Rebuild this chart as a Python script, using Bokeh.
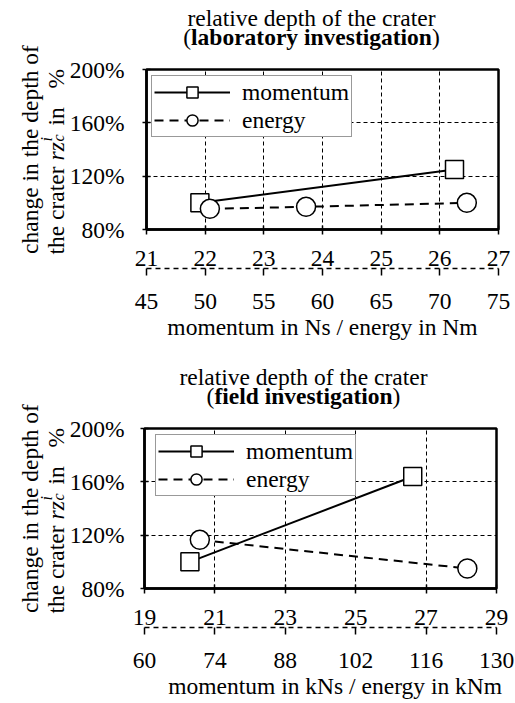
import math
from bokeh.plotting import figure
from bokeh.models import Range1d, LinearAxis, FixedTicker, PrintfTickFormatter
from bokeh.layouts import column, row
from bokeh.core.properties import value
from bokeh.embed import file_html
from bokeh.resources import INLINE

FONT = "Liberation Serif"
FS = "23.5px"

# ---------------- data ----------------
title_line1 = "relative depth of the crater"
y_ticks = [80, 120, 160, 200]
series_names = ["momentum", "energy"]
ylabel_line1 = "change in the depth of"
ylabel_line2 = ["the crater", "rz", "c", "i", "in", "%"]

lab_bold = "laboratory investigation"
lab_x_ticks = [21, 22, 23, 24, 25, 26, 27]
lab_en_ticks = [45, 50, 55, 60, 65, 70, 75]
lab_mom_x = [21.91, 26.25]
lab_mom_y = [100, 125]
lab_en_x = [50.4, 58.6, 72.3]
lab_en_y = [95.5, 97, 100]
lab_xlabel = "momentum in Ns / energy in Nm"

field_bold = "field investigation"
field_x_ticks = [19, 21, 23, 25, 27, 29]
field_en_ticks = [60, 74, 88, 102, 116, 130]
field_mom_x = [20.29, 26.62]
field_mom_y = [100, 164]
field_en_x = [71.0, 124.2]
field_en_y = [116.5, 95]
field_xlabel = "momentum in kNs / energy in kNm"

TB = dict(a=500, b=556, c=444, d=556, e=444, f=333, g=500, h=556, i=278, j=333, k=556,
          l=278, m=833, n=556, o=500, p=556, q=556, r=444, s=389, t=333, u=556, v=500,
          w=722, x=500, y=500, z=444)
TB[" "] = 250

W = 515
YL_W = 66
TITLE_H = [50, 65]
MAIN_H = [294, 294]


def aux(w, h):
    f = figure(width=w, height=h, x_range=Range1d(0, w), y_range=Range1d(0, h),
               output_backend="svg", toolbar_location=None,
               x_axis_location=None, y_axis_location=None,
               min_border_left=0, min_border_right=0, min_border_top=0, min_border_bottom=0)
    for g in f.grid:
        g.visible = False
    f.outline_line_color = None
    f.background_fill_color = "white"
    f.border_fill_color = "white"
    return f


def txt(f, x, y, t, align="center", baseline="middle", style="normal", size=FS, angle=0.0):
    f.text(x=[x], y=[y], text=[t], text_font=value(FONT), text_font_size=value(size),
           text_font_style=value(style), text_align=value(align),
           text_baseline=value(baseline), text_color="black", angle=angle)


def build(idx, page_top, frame_left, frame_right, title_cx, x_ticks, en_ticks,
          mom_x, mom_y, en_x, en_y, bold, xlabel, xlabel_pad, y_standoff, legend_x):
    th = TITLE_H[idx]
    mh = MAIN_H[idx]
    fh = 160
    fw = frame_right - frame_left
    frame_top_page = page_top + th + 19
    mw = W - YL_W

    # title strip (right of the y-label strip)
    tf = aux(mw, th)
    cx = title_cx - YL_W
    txt(tf, cx, 33, title_line1)
    bw = sum(TB.get(ch, 500) for ch in bold) * 23.5 / 1000.0
    txt(tf, cx, 14, bold, style="bold")
    txt(tf, cx - bw / 2, 14, "(", align="right")
    txt(tf, cx + bw / 2, 14, ")", align="left")

    # y-label strip, full height of title + chart
    sh = th + mh
    yf = aux(YL_W, sh)

    def py(page_y):
        return page_top + sh - page_y

    ftop = frame_top_page
    a = math.pi / 2
    txt(yf, 29, py(ftop + fh / 2), ylabel_line1, baseline="alphabetic", angle=a)
    txt(yf, 55, py(ftop + 185), ylabel_line2[0], align="left", baseline="alphabetic", angle=a)
    txt(yf, 55, py(ftop + 91), ylabel_line2[1], align="left", baseline="alphabetic",
        style="italic", angle=a)
    txt(yf, 58, py(ftop + 72), ylabel_line2[2], align="left", baseline="alphabetic",
        style="italic", size="16px", angle=a)
    txt(yf, 46, py(ftop + 72), ylabel_line2[3], align="left", baseline="alphabetic",
        style="italic", size="16px", angle=a)
    txt(yf, 55, py(ftop + 56), ylabel_line2[4], align="left", baseline="alphabetic", angle=a)
    txt(yf, 55, py(ftop + 19), ylabel_line2[5], align="left", baseline="alphabetic", angle=a)

    # main chart
    mbl = frame_left - YL_W
    mbr = mw - mbl - fw
    mbt = 19
    mbb = mh - mbt - fh
    p = figure(width=mw, height=mh,
               x_range=Range1d(x_ticks[0], x_ticks[-1]),
               y_range=Range1d(y_ticks[0], y_ticks[-1]),
               output_backend="svg", toolbar_location=None,
               min_border_left=mbl, min_border_right=mbr,
               min_border_top=mbt, min_border_bottom=mbb)
    p.extra_x_ranges = {"en": Range1d(en_ticks[0], en_ticks[-1])}
    p.outline_line_color = "black"
    p.outline_line_width = 2.5
    p.background_fill_color = "white"
    p.border_fill_color = "white"

    xa = p.below[0]
    xa.ticker = FixedTicker(ticks=x_ticks)
    xa.axis_line_color = "black"
    xa.axis_line_width = 2.5
    xa.major_tick_line_color = "black"
    xa.major_tick_line_width = 1.5
    xa.major_tick_in = 4
    xa.major_tick_out = 5
    xa.minor_tick_line_color = None
    xa.major_label_text_font = FONT
    xa.major_label_text_font_size = FS
    xa.major_label_text_color = "black"
    xa.major_label_standoff = 16

    ya = p.left[0]
    ya.ticker = FixedTicker(ticks=y_ticks)
    ya.formatter = PrintfTickFormatter(format="%d%%")
    ya.axis_line_color = "black"
    ya.axis_line_width = 2.5
    ya.major_tick_line_color = "black"
    ya.major_tick_line_width = 1.5
    ya.major_tick_in = 4
    ya.major_tick_out = 4
    ya.minor_tick_line_color = None
    ya.major_label_text_font = FONT
    ya.major_label_text_font_size = FS
    ya.major_label_text_color = "black"
    ya.major_label_standoff = y_standoff

    ax2 = LinearAxis(x_range_name="en", ticker=FixedTicker(ticks=en_ticks))
    ax2.axis_line_color = "black"
    ax2.axis_line_width = 1.5
    ax2.axis_line_dash = "5 4"
    ax2.major_tick_line_color = "black"
    ax2.major_tick_line_width = 1.5
    ax2.major_tick_in = 0
    ax2.major_tick_out = 7
    ax2.minor_tick_line_color = None
    ax2.major_label_text_font = FONT
    ax2.major_label_text_font_size = FS
    ax2.major_label_text_color = "black"
    ax2.major_label_standoff = 18
    ax2.axis_label = "\u00a0" * xlabel_pad + xlabel
    ax2.axis_label_text_font = FONT
    ax2.axis_label_text_font_size = FS
    ax2.axis_label_text_font_style = "normal"
    ax2.axis_label_text_color = "black"
    ax2.axis_label_standoff = 2
    p.add_layout(ax2, "below")

    for g in (p.xgrid[0], p.ygrid[0]):
        g.grid_line_color = "black"
        g.grid_line_dash = "4 3"
        g.grid_line_width = 1
    p.xgrid[0].ticker = FixedTicker(ticks=x_ticks)
    p.ygrid[0].ticker = FixedTicker(ticks=y_ticks)

    p.line(mom_x, mom_y, line_color="black", line_width=2, legend_label=series_names[0])
    p.scatter(mom_x, mom_y, marker="square", size=18, fill_color="white",
              line_color="black", line_width=1.5, legend_label=series_names[0])
    p.line(en_x, en_y, x_range_name="en", line_color="black", line_width=2,
           line_dash="9 6", legend_label=series_names[1])
    p.scatter(en_x, en_y, x_range_name="en", marker="circle", size=19, fill_color="white",
              line_color="black", line_width=1.5, legend_label=series_names[1])

    leg = p.legend[0]
    leg.location = (legend_x, 92)
    leg.label_text_font = FONT
    leg.label_text_font_size = FS
    leg.label_text_color = "black"
    leg.glyph_width = 76
    leg.glyph_height = 28
    leg.label_height = 28
    leg.label_standoff = 12
    leg.spacing = 0
    leg.padding = 2
    leg.margin = 0
    leg.border_line_color = "#333333"
    leg.border_line_width = 1
    leg.background_fill_color = "white"
    leg.background_fill_alpha = 1

    # nested columns keep Bokeh from aligning the strips' frames to the chart's frame
    return row(column(yf, spacing=0),
               column(column(tf, spacing=0), p, spacing=0), spacing=0)


c1 = build(0, 0, 146, 498, 311, lab_x_ticks, lab_en_ticks, lab_mom_x, lab_mom_y,
           lab_en_x, lab_en_y, lab_bold, lab_xlabel, 0, 18, 5)
c2 = build(1, TITLE_H[0] + MAIN_H[0], 141, 496, 303, field_x_ticks, field_en_ticks,
           field_mom_x, field_mom_y, field_en_x, field_en_y, field_bold, field_xlabel,
           5, 16, 11)

layout = column(c1, c2, spacing=0)
open("out.html", "w").write(file_html(layout, INLINE))
